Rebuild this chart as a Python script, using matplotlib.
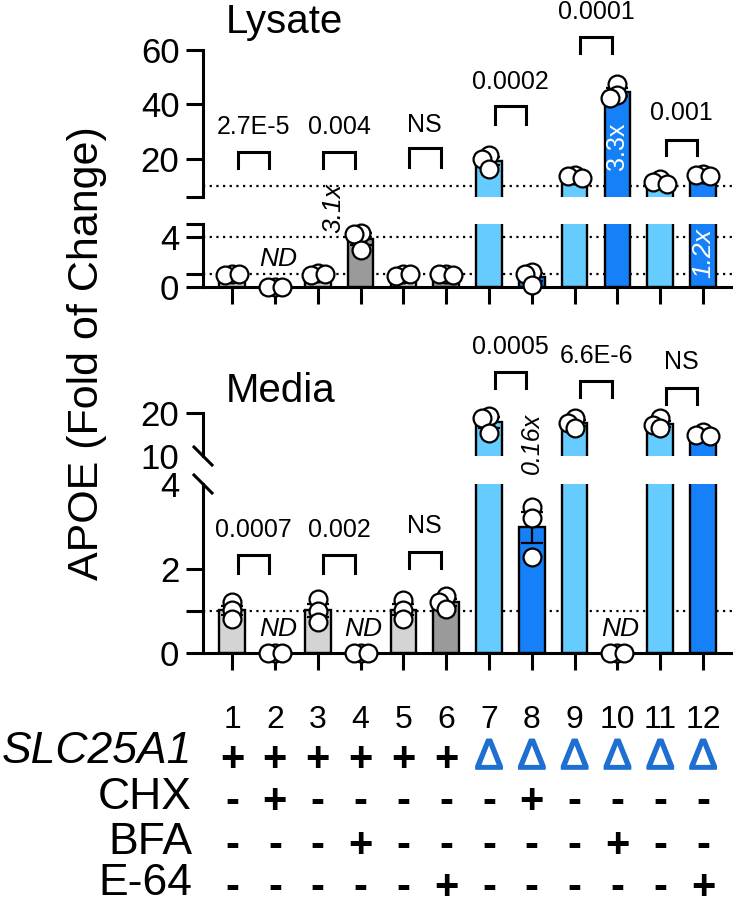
import matplotlib
matplotlib.use('Agg')
import matplotlib.pyplot as plt
import matplotlib.patheffects as pe
import numpy as np
from matplotlib.transforms import blended_transform_factory

plt.rcParams['font.family'] = ['Liberation Sans', 'DejaVu Sans']
plt.rcParams['axes.linewidth'] = 2.2

# data (fold of change, 3 replicates per lane)
lanes = ['1', '2', '3', '4', '5', '6', '7', '8', '9', '10', '11', '12']
lysate = [[1.05, 0.95, 1.0], [0.0, 0.0, 0.0], [1.1, 0.95, 1.0], [4.3, 4.2, 2.9],
          [1.0, 0.9, 1.05], [1.0, 1.0, 0.95], [21.3, 19.8, 16.2], [1.2, 1.05, 0.15],
          [14.0, 13.6, 13.0], [47.5, 43.5, 42.5], [12.5, 11.5, 10.8], [14.3, 14.0, 13.6]]
media = [[1.2, 1.02, 0.8], [0.0, 0.0, 0.0], [1.28, 1.0, 0.74], [0.0, 0.0, 0.0],
         [1.25, 1.02, 0.8], [1.35, 1.2, 1.05], [19.2, 18.9, 15.3], [3.45, 3.2, 2.27],
         [18.8, 17.7, 16.5], [0.0, 0.0, 0.0], [18.8, 17.2, 16.5], [15.6, 15.0, 14.6]]
slc25a1 = ['+', '+', '+', '+', '+', '+', 'Δ', 'Δ', 'Δ', 'Δ', 'Δ', 'Δ']
chx = ['-', '+', '-', '-', '-', '-', '-', '+', '-', '-', '-', '-']
bfa = ['-', '-', '-', '+', '-', '-', '-', '-', '-', '+', '-', '-']
e64 = ['-', '-', '-', '-', '-', '+', '-', '-', '-', '-', '-', '+']

# p-value brackets: (label, left lane idx, bracket top, leg bottom, label y)
lys_brackets = [('2.7E-5', 0, 22.5, 16.7, 31.7), ('0.004', 2, 22.5, 16.7, 31.7),
                ('NS', 4, 24.0, 17.0, 32.5), ('0.0002', 6, 39.5, 32.8, 48.3),
                ('0.0001', 8, 64.8, 58.9, 74.0), ('0.001', 10, 27.0, 21.4, 36.9)]
med_brackets_lo = [('0.0007', 0, 2.32, 1.89, 2.91), ('0.002', 2, 2.32, 1.89, 2.91),
                   ('NS', 4, 2.39, 2.01, 3.0)]
med_brackets_up = [('0.0005', 6, 29.5, 25.8, 35.3), ('6.6E-6', 8, 27.4, 23.7, 33.3),
                   ('NS', 10, 25.8, 22.1, 31.9)]

colors = ['#d4d4d4', '#9a9a9a'] * 3 + ['#66ccff', '#1680f8'] * 3
delta_color = '#1f6fd1'

W, H = 733, 898
fig = plt.figure(figsize=(W / 100, H / 100), dpi=100)
x = np.arange(len(lanes))


def add_ax(top, bottom):
    return fig.add_axes([203 / W, 1 - bottom / H, (W - 203) / W, (bottom - top) / H])


def style(ax, lo, hi, ticks, labels, xaxis):
    ax.set_xlim(-0.68, 11.7)
    ax.set_ylim(lo, hi)
    for s in ['top', 'right']:
        ax.spines[s].set_visible(False)
    ax.spines['bottom'].set_visible(xaxis)
    ax.set_yticks(ticks)
    ax.set_yticklabels(labels)
    ax.tick_params(axis='y', length=12, width=2.2, labelsize=25, pad=5)
    if xaxis:
        ax.set_xticks(x)
        ax.set_xticklabels([])
        ax.tick_params(axis='x', length=12, width=2.2)
    else:
        ax.set_xticks([])


def swarm(ax, x0, ys, step=7):
    # spread overlapping points sideways (in pixels), like prism's scatter
    tr = ax.transData
    pts = tr.transform(np.column_stack([np.full(len(ys), x0), ys]))
    ppu = tr.transform((1, 0))[0] - tr.transform((0, 0))[0]
    placed, out = [], []
    for px, py in pts:
        cx = px
        for k in [0, -1, 1, -2, 2]:
            cx = px + k * step
            d = min([np.hypot(cx - qx, py - qy) for qx, qy in placed], default=1e9)
            if d >= step:
                break
        placed.append((cx, py))
        out.append(x0 + (cx - px) / ppu)
    return out


def panel(ax_up, ax_lo, vals, split):
    means = [np.mean(v) for v in vals]
    sems = [np.std(v, ddof=1) / np.sqrt(len(v)) for v in vals]
    for ax in (ax_up, ax_lo):
        ax.bar(x, means, width=0.6, color=colors, edgecolor='k', linewidth=1.7, zorder=2)
        ax.errorbar(x, means, yerr=sems, fmt='none', ecolor='k', elinewidth=1.6,
                    capsize=8, capthick=1.6, zorder=3)
    for i, v in enumerate(vals):
        ax = ax_up if means[i] > split else ax_lo
        xs = swarm(ax, x[i], v)
        ax.scatter(xs, v, s=165, facecolor='white', edgecolor='k', linewidth=1.6,
                   zorder=5, clip_on=False)


def bracket(ax, lab, i, top, leg, ly, fs=18):
    xl, xr = x[i] + 0.13, x[i + 1] - 0.13
    ax.plot([xl, xl, xr, xr], [leg, top, top, leg], color='k', lw=2.2,
            solid_joinstyle='miter', clip_on=False, zorder=4)
    ax.text((x[i] + x[i + 1]) / 2, ly, lab, ha='center', va='center', fontsize=fs,
            clip_on=False)


dots = (0, (1, 2))

# ---------------- Lysate
lu = add_ax(50, 197)
ll = add_ax(224, 287)
style(lu, 6, 60, [6, 20, 40, 60], ['', '20', '40', '60'], False)
style(ll, 0, 5, [0, 1, 4, 5], ['0', '', '4', ''], True)
lu.axhline(10, ls=dots, lw=1.6, color='k', zorder=1)
for yy in (1, 4):
    ll.axhline(yy, ls=dots, lw=1.6, color='k', zorder=1)
panel(lu, ll, lysate, 5)
for b in lys_brackets:
    bracket(lu, *b)
ll.text(x[1] + 0.07, 2.2, 'ND', style='italic', fontsize=19, ha='center', va='center')
ll.text(x[3] - 0.63, 6.27, '3.1x', style='italic', fontsize=19, rotation=90,
        ha='center', va='center', clip_on=False)
lu.text(x[9], 24.75, '3.3x', color='white', fontsize=18, rotation=90,
        ha='center', va='center', zorder=6)
ll.text(x[11], 2.7, '1.2x', color='white', style='italic', fontsize=19, rotation=90,
        ha='center', va='center', zorder=6)

# ---------------- Media
mu = add_ax(413, 456)
ml = add_ax(484, 653)
style(mu, 10, 20, [10, 20], ['10', '20'], False)
style(ml, 0, 4, [0, 1, 2, 4], ['0', '', '2', '4'], True)
mu.yaxis.get_major_ticks()[0].tick1line.set_visible(False)
ml.yaxis.get_major_ticks()[3].tick1line.set_visible(False)
ml.axhline(1, ls=dots, lw=1.6, color='k', zorder=1)
panel(mu, ml, media, 4)
for b in med_brackets_lo:
    bracket(ml, *b)
for b in med_brackets_up:
    bracket(mu, *b)
for i in (1, 3, 9):
    ml.text(x[i] + 0.07, 0.57, 'ND', style='italic', fontsize=19, ha='center', va='center')
ml.text(x[7], 4.95, '0.16x', style='italic', fontsize=18, rotation=90,
        ha='center', va='center', clip_on=False)

# axis break marks
for ax, yb, hpx in ((mu, 0, 43), (ml, 1, 169)):
    dx, dy = 9 / (W - 203), 9 / hpx
    ax.plot([-dx, dx], [yb + dy, yb - dy], transform=ax.transAxes, color='k',
            lw=2.2, clip_on=False)

# titles / labels
fig.text(284 / W, 1 - 33 / H, 'Lysate', ha='center', va='baseline', fontsize=29)
fig.text(281 / W, 1 - 402 / H, 'Media', ha='center', va='baseline', fontsize=29)
fig.text(87 / W, 1 - 353 / H, 'APOE (Fold of Change)', rotation=90, ha='center',
         va='center', fontsize=31)

# condition table under the chart
tf = blended_transform_factory(ml.transData, fig.transFigure)
for i, lab in enumerate(lanes):
    fig.text(x[i], 1 - 728 / H, lab, transform=tf, ha='center', va='baseline', fontsize=23)
rows = [('SLC25A1', slc25a1, 763, 771, 'italic'), ('CHX', chx, 809, 813, 'normal'),
        ('BFA', bfa, 854, 857, 'normal'), ('E-64', e64, 895, 899, 'normal')]
thick = [pe.withStroke(linewidth=1.2, foreground=delta_color)]
for name, marks, yl, ys, st in rows:
    fig.text(192 / W, 1 - yl / H, name, ha='right', va='baseline', fontsize=32, style=st)
    for i, m in enumerate(marks):
        if m == 'Δ':
            fig.text(x[i], 1 - 769 / H, m, transform=tf, ha='center', va='baseline',
                     fontsize=31, color=delta_color, path_effects=thick)
        else:
            fig.text(x[i], 1 - ys / H, m, transform=tf, ha='center', va='baseline',
                     fontsize=30, fontweight='bold')

fig.savefig('out.png', dpi=100)
